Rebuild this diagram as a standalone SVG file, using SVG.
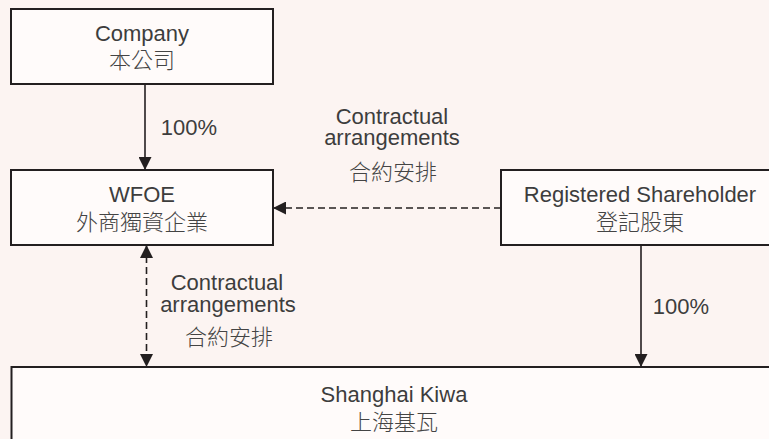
<svg xmlns="http://www.w3.org/2000/svg" width="769" height="439" viewBox="0 0 769 439">
<defs>
<style>
.box{fill:#fffbfa;stroke:#231f20;stroke-width:2}
.ln{stroke:#231f20;stroke-width:1.6;fill:none}
.dash{stroke-dasharray:7 4}
text{font-family:"Liberation Sans","Noto Sans CJK TC",sans-serif;font-size:22px;fill:#3d3d3d;text-anchor:middle}
.cjk{font-family:"Noto Sans CJK TC","Noto Sans CJK SC",sans-serif;font-weight:300;font-size:22px;fill:#444}
</style>
<marker id="ah" viewBox="0 0 13 13" refX="13" refY="6.5" markerWidth="13" markerHeight="13" markerUnits="userSpaceOnUse" orient="auto-start-reverse">
<path d="M0,0 L13,6.5 L0,13 Z" fill="#231f20"/>
</marker>
</defs>
<rect width="769" height="439" fill="#fcf4f2"/>
<g id="company">
<rect class="box" x="11" y="9" width="262" height="75"/>
<text x="142" y="41">Company</text>
<text class="cjk" x="142" y="68">本公司</text>
</g>
<g id="wfoe">
<rect class="box" x="11" y="170" width="262" height="75"/>
<text x="142" y="202">WFOE</text>
<text class="cjk" x="142" y="230">外商獨資企業</text>
</g>
<g id="registered">
<rect class="box" x="501" y="170" width="290" height="75"/>
<text x="640" y="202">Registered Shareholder</text>
<text class="cjk" x="640" y="230">登記股東</text>
</g>
<g id="kiwa">
<rect class="box" x="11.5" y="367" width="790" height="90"/>
<text x="394" y="402">Shanghai Kiwa</text>
<text class="cjk" x="394" y="430">上海基瓦</text>
</g>
<g id="connectors">
<line class="ln" x1="145" y1="84" x2="145" y2="170" marker-end="url(#ah)"/>
<line class="ln dash" x1="501" y1="208" x2="273" y2="208" marker-end="url(#ah)"/>
<line class="ln dash" x1="146.5" y1="245" x2="146.5" y2="367" marker-start="url(#ah)" marker-end="url(#ah)"/>
<line class="ln" x1="641" y1="245" x2="641" y2="367" marker-end="url(#ah)"/>
</g>
<g id="labels">
<text x="189" y="135">100%</text>
<text x="681" y="314">100%</text>
<text x="392" y="124">Contractual</text>
<text x="392" y="145">arrangements</text>
<text class="cjk" x="393" y="180">合約安排</text>
<text x="227" y="290">Contractual</text>
<text x="228" y="312">arrangements</text>
<text class="cjk" x="229" y="345">合約安排</text>
</g>
</svg>
